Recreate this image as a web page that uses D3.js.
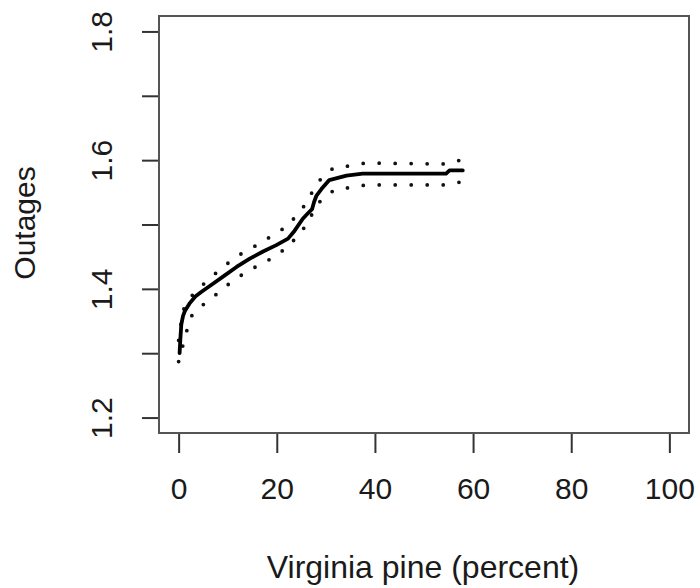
<!DOCTYPE html>
<html>
<head>
<meta charset="utf-8">
<script src="https://cdn.jsdelivr.net/npm/d3@7"></script>
<style>
  html, body { margin: 0; padding: 0; background: #fff; }
  svg { display: block; }
  text { font-family: "Liberation Sans", Arial, Helvetica, sans-serif; fill: #1a1a1a; }
</style>
</head>
<body>
<svg id="chart" width="700" height="588"></svg>
<script>
// ---- data ----
const xTicks = [0, 20, 40, 60, 80, 100];
const yTicks = [1.2, 1.3, 1.4, 1.5, 1.6, 1.7, 1.8];
const yLabelled = [1.2, 1.4, 1.6, 1.8];
const xTitle = "Virginia pine (percent)";
const yTitle = "Outages";

// fitted curve
const fitX = [0.2, 0.35, 0.55, 0.9, 1.3, 2.2, 3.4, 4.6, 7.0, 9.4, 11.8, 14.5, 17.2, 19.9, 22.3, 23.6, 25.3, 26.3, 27.2, 27.6, 28.1, 29.1, 30.7, 34.2, 37.5, 54.5, 55.2, 57.9];
const fitY = [1.300, 1.322, 1.345, 1.358, 1.366, 1.377, 1.388, 1.395, 1.408, 1.421, 1.434, 1.447, 1.458, 1.468, 1.478, 1.490, 1.509, 1.517, 1.524, 1.535, 1.545, 1.555, 1.569, 1.576, 1.579, 1.579, 1.584, 1.584];

// upper band
const upX = [0.0, 0.9, 2.4, 4.6, 6.9, 9.4, 11.75, 14.5, 17.2, 19.75, 22.5, 24.2, 26.3, 27.5, 29.4, 31.6, 34.8, 38.1, 54.5, 57.4];
const upY = [1.320, 1.3665, 1.387, 1.404, 1.420, 1.436, 1.450, 1.462, 1.473, 1.487, 1.498, 1.518, 1.534, 1.556, 1.575, 1.588, 1.591, 1.5955, 1.594, 1.600];

// lower band
const loX = [0.0, 2.4, 4.6, 7.0, 9.4, 12.0, 14.5, 17.4, 19.9, 22.6, 24.3, 26.5, 27.5, 29.4, 31.8, 35.0, 38.2, 54.5, 57.4];
const loY = [1.287, 1.356, 1.373, 1.387, 1.403, 1.417, 1.4305, 1.439, 1.454, 1.465, 1.486, 1.501, 1.524, 1.541, 1.554, 1.5575, 1.5615, 1.5615, 1.566];

// ---- layout ----
const box = { left: 159, right: 689, top: 16, bottom: 433 };
const svg = d3.select("#chart");

const x = d3.scaleLinear().domain([-4, 104]).range([box.left, box.right]);
const y = d3.scaleLinear().domain([1.176, 1.824]).range([box.bottom, box.top]);

const fontSize = 30;

// x axis
const xAxis = d3.axisBottom(x).tickValues(xTicks).tickSize(20).tickSizeOuter(0).tickFormat(d3.format("d"));
const gx = svg.append("g").attr("transform", `translate(0,${box.bottom})`).call(xAxis);
gx.select(".domain").remove();
gx.selectAll(".tick line").attr("stroke", "#333").attr("stroke-width", 2);
gx.selectAll(".tick text")
  .attr("y", 65.5).attr("dy", 0)
  .attr("font-size", fontSize)
  .style("font-family", "'Liberation Sans', Arial, sans-serif")
  .attr("fill", "#1a1a1a");

// y axis
const yAxis = d3.axisLeft(y).tickValues(yTicks).tickSize(17).tickSizeOuter(0)
  .tickFormat(d => yLabelled.some(v => Math.abs(v - d) < 1e-9) ? d3.format(".1f")(d) : "");
const gy = svg.append("g").attr("transform", `translate(${box.left},0)`).call(yAxis);
gy.select(".domain").remove();
gy.selectAll(".tick line").attr("stroke", "#333").attr("stroke-width", 2);
gy.selectAll(".tick text")
  .attr("x", 0).attr("y", 0).attr("dy", 0)
  .attr("text-anchor", "middle")
  .attr("transform", `translate(${112 - box.left},0) rotate(-90)`)
  .attr("font-size", fontSize)
  .style("font-family", "'Liberation Sans', Arial, sans-serif")
  .attr("fill", "#1a1a1a");

// axis lines spanning first to last tick (R style), over box edge
svg.append("line")
  .attr("x1", x(xTicks[0])).attr("x2", x(xTicks[xTicks.length - 1]))
  .attr("y1", box.bottom).attr("y2", box.bottom)
  .attr("stroke", "#222").attr("stroke-width", 2);
svg.append("line")
  .attr("y1", y(yTicks[0])).attr("y2", y(yTicks[yTicks.length - 1]))
  .attr("x1", box.left).attr("x2", box.left)
  .attr("stroke", "#222").attr("stroke-width", 2);

// plot box
svg.append("rect")
  .attr("x", box.left).attr("y", box.top)
  .attr("width", box.right - box.left).attr("height", box.bottom - box.top)
  .attr("fill", "none").attr("stroke", "#555").attr("stroke-width", 2);

// lines
const line = d3.line().x(d => x(d[0])).y(d => y(d[1]));
const fit = fitX.map((v, i) => [v, fitY[i]]);
const up = upX.map((v, i) => [v, upY[i]]);
const lo = loX.map((v, i) => [v, loY[i]]);

[up, lo].forEach(band => {
  svg.append("path").datum(band)
    .attr("d", line)
    .attr("fill", "none")
    .attr("stroke", "#111")
    .attr("stroke-width", 3.8)
    .attr("stroke-linecap", "round")
    .attr("stroke-dasharray", "0 16");
});

svg.append("path").datum(fit)
  .attr("d", line)
  .attr("fill", "none")
  .attr("stroke", "#000")
  .attr("stroke-width", 3.8)
  .attr("stroke-linejoin", "round")
  .attr("stroke-linecap", "round");

// titles
svg.append("text")
  .attr("x", (box.left + box.right) / 2 - 1).attr("y", 578)
  .attr("text-anchor", "middle")
  .attr("font-size", 32)
  .text(xTitle);

svg.append("text")
  .attr("transform", `translate(35,${223}) rotate(-90)`)
  .attr("text-anchor", "middle")
  .attr("font-size", 30)
  .text(yTitle);
</script>
</body>
</html>
